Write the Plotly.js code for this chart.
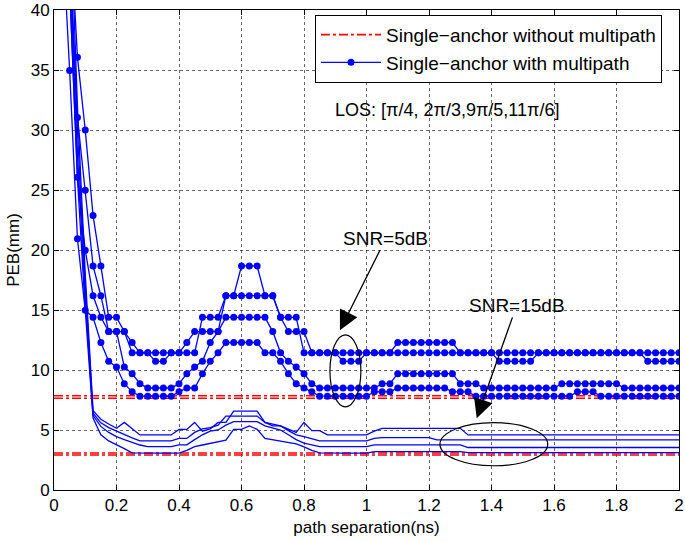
<!DOCTYPE html>
<html>
<head>
<meta charset="utf-8">
<script src="https://cdn.plot.ly/plotly-3.0.1.min.js"></script>
<style>html,body{margin:0;padding:0;background:#fff;}#chart{width:685px;height:541px;}</style>
</head>
<body>
<div id="chart"></div>
<script>
// path separation (ns)
const pathSep = [0.025,0.05,0.075,0.1,0.125,0.15,0.175,0.2,0.225,0.25,0.275,0.3,0.325,0.35,0.375,0.4,0.425,0.45,0.475,0.5,
0.525,0.55,0.575,0.6,0.625,0.65,0.675,0.7,0.725,0.75,0.775,0.8,0.825,0.85,0.875,0.9,0.925,0.95,0.975,1.0,
1.025,1.05,1.075,1.1,1.125,1.15,1.175,1.2,1.225,1.25,1.275,1.3,1.325,1.35,1.375,1.4,1.425,1.45,1.475,1.5,
1.525,1.55,1.575,1.6,1.625,1.65,1.675,1.7,1.725,1.75,1.775,1.8,1.825,1.85,1.875,1.9,1.925,1.95,1.975,2.0];

// SNR = 5dB, with multipath (marked curves)
const snr5_a = [60,48,36.07,30.0,22.87,18.67,14.39,14.39,13.2,12.29,11.43,11.43,11.43,11.43,11.43,11.43,11.43,11.43,14.39,14.39,
14.39,16.19,16.19,18.67,18.67,18.67,16.19,16.19,14.39,14.39,14.39,11.43,11.43,11.43,11.43,11.43,11.43,11.43,11.43,11.43,
11.43,11.43,11.43,12.29,12.29,12.29,12.29,12.29,12.29,12.29,12.29,11.43,11.43,11.43,11.43,11.43,11.43,11.43,11.43,11.43,
11.43,11.43,11.43,11.43,11.43,11.43,11.43,11.43,11.43,11.43,11.43,11.43,11.43,11.43,11.43,11.43,11.43,11.43,11.43,11.43];
const snr5_b = [55,44,31.04,24.97,18.67,16.19,13.2,13.2,13.2,11.43,11.43,11.43,10.72,10.72,11.43,11.43,12.29,13.2,13.2,13.2,
13.2,16.19,16.19,16.19,16.19,16.19,16.19,16.19,14.39,13.2,13.2,13.2,11.43,11.43,11.43,11.43,10.72,10.72,10.72,11.43,
11.43,11.43,11.43,11.43,11.43,11.43,11.43,11.43,11.43,11.43,11.43,11.43,11.43,11.43,11.43,11.43,10.72,10.72,10.72,10.72,
10.72,11.43,11.43,11.43,11.43,11.43,11.43,11.43,11.43,11.43,11.43,11.43,11.43,11.43,11.43,10.72,10.72,10.72,10.72,10.72];
const snr5_c = [52,42,26.07,19.97,16.19,14.39,13.2,13.2,10.25,9.69,8.86,8.5,8.5,8.5,8.5,8.86,9.69,10.25,10.72,12.29,
13.2,14.39,14.39,14.39,14.39,14.39,14.39,13.2,11.43,10.72,10.25,9.69,8.86,8.5,8.5,8.5,8.5,8.5,8.5,8.5,
8.5,8.86,8.86,9.69,9.69,9.69,9.69,9.69,9.69,9.69,9.69,8.86,8.86,8.86,8.5,8.5,8.5,8.5,8.5,8.5,
8.5,8.5,8.5,8.5,8.86,8.86,8.86,8.86,8.86,8.86,8.86,8.86,8.5,8.5,8.5,8.5,8.5,8.5,8.5,8.5];
const snr5_d = [47.5,34.96,20.94,14.97,14.39,12.29,10.72,10.25,8.86,8.18,7.82,7.82,7.82,7.82,7.82,8.18,8.5,8.5,9.69,10.72,
11.43,12.29,12.29,12.29,12.29,12.29,11.43,11.43,10.72,9.69,8.86,8.5,8.18,7.82,7.82,7.82,7.82,7.82,7.82,7.82,
8.18,8.18,8.18,8.5,8.5,8.5,8.5,8.5,8.5,8.5,8.18,8.18,8.18,7.82,7.82,7.82,7.82,7.82,7.82,7.82,
7.82,7.82,7.82,7.82,7.82,7.82,8.18,8.18,8.18,7.82,7.82,7.82,7.82,7.82,7.82,7.82,7.82,7.82,7.82,7.82];

// SNR = 15dB, with multipath (plain curves)
const snr15_a = [70,50,32,18,6.6,5.9,5.5,5.14,5.63,5.1,4.59,4.59,4.59,4.59,4.59,5.05,5.05,5.63,4.9,5.1,
5.63,5.63,6.57,6.57,6.57,6.57,5.63,5.34,5.34,5.1,4.8,5.63,4.95,4.95,4.59,4.59,4.59,4.59,4.59,4.59,
4.9,5.14,5.14,5.14,5.14,5.14,5.14,5.14,5.14,5.14,5.14,5.14,4.59,4.59,4.59,4.59,4.59,4.59,4.59,4.59,
4.59,4.59,4.59,4.59,4.59,4.59,4.59,4.59,4.59,4.59,4.59,4.59,4.59,4.59,4.59,4.59,4.59,4.59,4.59,4.59];
const snr15_b = [65,46,30,17,6.4,5.6,5.2,4.9,4.65,4.35,4.09,4.09,4.09,4.09,4.09,4.3,4.3,4.8,5.1,5.2,
5.4,6.16,6.16,6.16,6.16,6.16,5.63,5.5,5.34,4.95,4.6,4.45,4.25,4.09,4.09,4.09,4.09,4.09,4.09,4.09,
4.3,4.37,4.37,4.37,4.37,4.37,4.37,4.37,4.18,4.18,4.18,4.18,4.18,4.18,4.18,4.18,4.18,4.18,4.18,4.18,
4.18,4.18,4.18,4.18,4.18,4.18,4.18,4.18,4.18,4.18,4.18,4.18,4.18,4.18,4.18,4.18,4.18,4.18,4.18,4.18];
const snr15_c = [62,44,28,16,6.2,5.3,4.8,4.45,4.2,3.95,3.75,3.62,3.62,3.62,3.62,3.76,3.76,4.2,4.6,4.9,
5.0,5.4,5.69,5.69,5.69,5.69,5.34,5.2,5.0,4.6,4.2,3.9,3.75,3.62,3.62,3.62,3.62,3.62,3.62,3.62,
3.76,3.76,3.76,3.76,3.76,3.76,3.76,3.76,3.76,3.76,3.76,3.76,3.54,3.54,3.54,3.54,3.54,3.54,3.54,3.54,
3.54,3.54,3.54,3.54,3.54,3.54,3.54,3.54,3.54,3.54,3.54,3.54,3.54,3.54,3.54,3.54,3.54,3.54,3.54,3.54];
const snr15_d = [60,42,26,15,6.0,4.6,4.09,3.8,3.45,3.1,3.07,3.07,3.07,3.07,3.07,3.07,3.3,3.62,3.75,3.9,
4.0,4.15,5.05,5.05,5.34,5.05,4.3,4.2,4.1,3.95,3.85,3.6,3.3,3.1,3.07,3.07,3.07,3.07,3.07,3.07,
3.2,3.2,3.2,3.2,3.2,3.2,3.2,3.2,3.2,3.2,3.2,3.2,3.12,3.12,3.12,3.12,3.12,3.12,3.12,3.12,
3.12,3.12,3.12,3.12,3.12,3.12,3.12,3.12,3.12,3.12,3.12,3.12,3.12,3.12,3.12,3.12,3.12,3.12,3.12,3.12];

// Single-anchor without multipath (constant bounds)
const noMpX = [0, 2];
const noMpLevels = [7.85, 7.65, 3.08, 2.92];

const legendNames = ["Single\u2212anchor without multipath", "Single\u2212anchor with multipath"];
const xTitle = "path separation(ns)";
const yTitle = "PEB(mm)";
const losText = "LOS: [\u03c0/4, 2\u03c0/3,9\u03c0/5,11\u03c0/6]";
const snrLabels = ["SNR=5dB", "SNR=15dB"];

const FONT = "Liberation Sans, Arial, Helvetica, sans-serif";
const BLUE = "#0000ff";
const RED = "#ff0000";

const traces = [];
noMpLevels.forEach((v, i) => {
  traces.push({
    x: noMpX, y: [v, v], type: "scatter", mode: "lines",
    line: {color: RED, width: 1.6, dash: "dashdot"},
    name: legendNames[0], showlegend: i === 0, hoverinfo: "skip"
  });
});
[snr5_a, snr5_b, snr5_c, snr5_d].forEach((ys, i) => {
  traces.push({
    x: pathSep, y: ys, type: "scatter", mode: "lines+markers",
    line: {color: BLUE, width: 1.3},
    marker: {color: BLUE, size: 7, symbol: "circle"},
    name: legendNames[1], showlegend: i === 0
  });
});
[snr15_a, snr15_b, snr15_c, snr15_d].forEach((ys) => {
  traces.push({
    x: pathSep, y: ys, type: "scatter", mode: "lines",
    line: {color: BLUE, width: 1.3},
    name: legendNames[1], showlegend: false
  });
});

const axisCommon = {
  showline: true, linecolor: "#000", linewidth: 1, mirror: "ticks",
  ticks: "inside", ticklen: 5, tickcolor: "#000", tickwidth: 1,
  showgrid: true, gridcolor: "rgba(0,0,0,0.6)", griddash: "dot", gridwidth: 1,
  zeroline: false, ticklabeloverflow: "allow",
  tickfont: {family: FONT, size: 17, color: "#000"}
};

const layout = {
  width: 685, height: 541,
  margin: {l: 54, r: 6, t: 10, b: 51, pad: 0},
  paper_bgcolor: "#fff", plot_bgcolor: "#fff",
  font: {family: FONT, color: "#000"},
  xaxis: Object.assign({}, axisCommon, {
    range: [0, 2], tick0: 0, dtick: 0.2,
    title: {text: xTitle, font: {family: FONT, size: 17, color: "#000"}, standoff: 6}
  }),
  yaxis: Object.assign({}, axisCommon, {
    range: [0, 40], tick0: 0, dtick: 5,
    title: {text: yTitle, font: {family: FONT, size: 17, color: "#000"}, standoff: 6}
  }),
  showlegend: true,
  legend: {
    x: 0.4176, y: 0.99, xanchor: "left", yanchor: "top",
    bgcolor: "#fff", bordercolor: "#000", borderwidth: 1,
    font: {family: FONT, size: 19, color: "#000"},
    itemwidth: 60, tracegroupgap: 0
  },
  annotations: [
    {x: 1.256, y: 31.7, xref: "x", yref: "y", text: losText, showarrow: false,
     font: {family: FONT, size: 18, color: "#000"}},
    {x: 0.915, y: 13.31, xref: "x", yref: "y", text: snrLabels[0], showarrow: true,
     ax: 46, ay: -92, arrowhead: 2, arrowsize: 3, arrowwidth: 1.3, arrowcolor: "#000",
     font: {family: FONT, size: 19, color: "#000"}},
    {x: 1.3526, y: 5.97, xref: "x", yref: "y", text: snrLabels[1], showarrow: true,
     ax: 40, ay: -113, arrowhead: 2, arrowsize: 3, arrowwidth: 1.3, arrowcolor: "#000",
     font: {family: FONT, size: 19, color: "#000"}}
  ],
  shapes: [
    {type: "circle", xref: "x", yref: "y", x0: 0.883, x1: 0.982, y0: 6.93, y1: 12.92,
     line: {color: "#000", width: 1.2}},
    {type: "circle", xref: "x", yref: "y", x0: 1.235, x1: 1.58, y0: 2.02, y1: 5.61,
     line: {color: "#000", width: 1.2}}
  ]
};

Plotly.newPlot("chart", traces, layout, {staticPlot: true, displayModeBar: false});
</script>
</body>
</html>
